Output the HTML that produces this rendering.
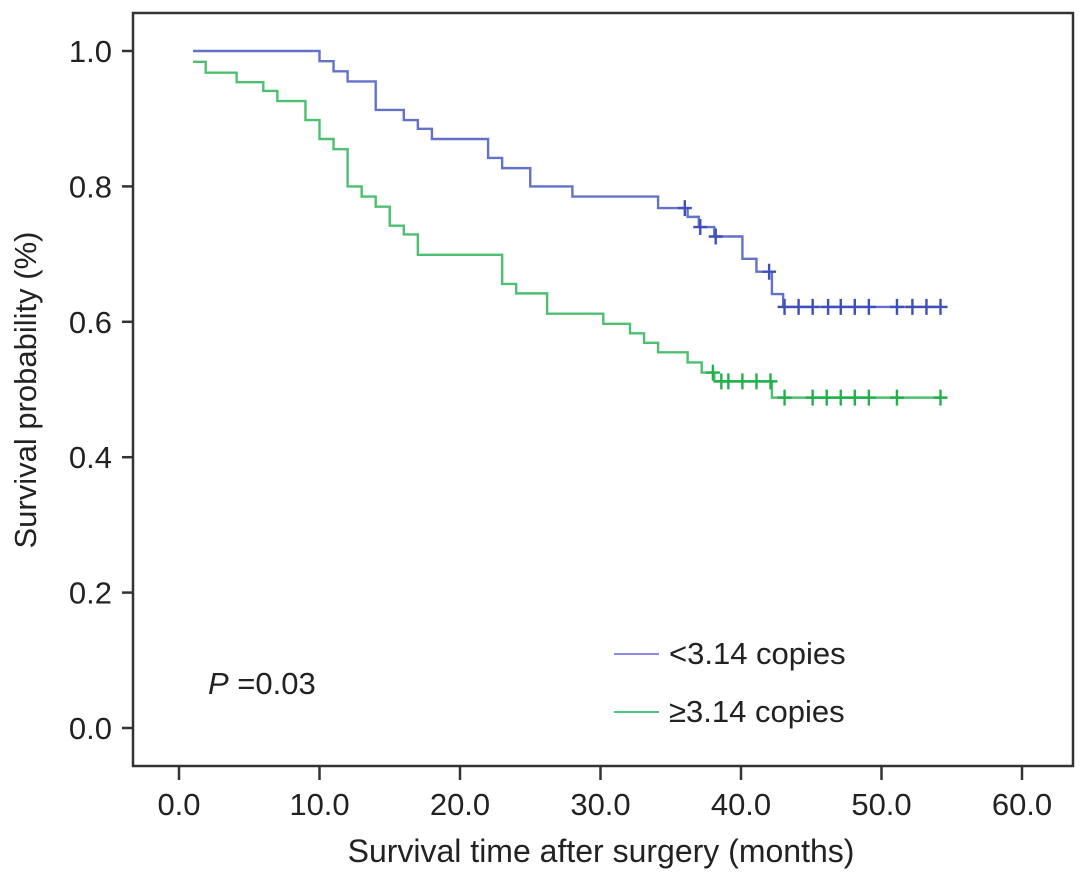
<!DOCTYPE html>
<html><head><meta charset="utf-8"><style>
html,body{margin:0;padding:0;background:#fff;}
svg{display:block;font-family:"Liberation Sans",Arial,sans-serif;}
</style></head><body>
<svg id="chart" width="1085" height="879" viewBox="0 0 1085 879">
<rect x="133" y="13" width="940" height="753" fill="#fff" stroke="#333" stroke-width="2.5"/>
<g id="axes"></g>
<g id="curves"></g>
<text x="601" y="862" font-size="32" fill="#222" text-anchor="middle">Survival time after surgery (months)</text>
<text transform="translate(36,390) rotate(-90)" font-size="31" fill="#222" text-anchor="middle">Survival probability (%)</text>
<text x="208" y="694" font-size="31" fill="#222"><tspan font-style="italic">P</tspan> =0.03</text>
<g>
<line x1="614" y1="654" x2="659" y2="654" stroke="#8a8ae0" stroke-width="2"/>
<text x="669" y="664" font-size="31" fill="#222">&lt;3.14 copies</text>
<line x1="614" y1="712" x2="659" y2="712" stroke="#4cc680" stroke-width="2"/>
<text x="669" y="722" font-size="31" fill="#222">≥3.14 copies</text>
</g>
</svg>
<script>
const xTicks=[0,10,20,30,40,50,60];
const xTickLabels=["0.0","10.0","20.0","30.0","40.0","50.0","60.0"];
const yTicks=[0,0.2,0.4,0.6,0.8,1.0];
const yTickLabels=["0.0","0.2","0.4","0.6","0.8","1.0"];
const lowTimes=[1,10,11,12,14,16,17,18,22,23,25,28,34.1,36.2,37,38.1,40.1,41.1,42.2,43,54.3];
const lowSurv=[1.0,0.985,0.97,0.955,0.913,0.898,0.885,0.87,0.842,0.827,0.80,0.785,0.768,0.755,0.74,0.726,0.693,0.674,0.641,0.622,0.622];
const lowCensT=[36,37.1,38.2,42,43.1,44.1,45.1,46.2,47.1,48.1,49.1,51.1,52.2,53.2,54.2];
const highTimes=[1,1.9,4.1,6,7,9,10,11,12,13,14,15,16,17,23,24,26.2,30.2,32.1,33.1,34.1,36.2,37.2,38.1,42.2,54.3];
const highSurv=[0.984,0.968,0.954,0.941,0.926,0.898,0.87,0.855,0.80,0.785,0.77,0.742,0.729,0.699,0.656,0.642,0.612,0.597,0.583,0.569,0.555,0.54,0.525,0.512,0.488,0.488];
const highCensT=[38,38.6,39.1,40.1,41.1,42.1,43.1,45.1,46.1,47.1,48.1,49.1,51.1,54.2];
const X=t=>179+t*14.05;
const Y=s=>728-s*677;
const NS="http://www.w3.org/2000/svg";
function mk(tag,attrs,parent){const e=document.createElementNS(NS,tag);for(const k in attrs)e.setAttribute(k,attrs[k]);parent.appendChild(e);return e;}
const axes=document.getElementById('axes');
xTicks.forEach((t,i)=>{
 const l=mk('line',{x1:X(t),y1:766,x2:X(t),y2:780,stroke:'#333','stroke-width':2.5},axes);
 
 
 const tx=mk('text',{x:X(t),y:815,'font-size':31,fill:'#222','text-anchor':'middle'},axes);
 tx.textContent=xTickLabels[i];
 
 
});
yTicks.forEach((s,i)=>{
 const l=mk('line',{x1:122,y1:Y(s),x2:133,y2:Y(s),stroke:'#333','stroke-width':2.5},axes);
 
 
 const tx=mk('text',{x:112,y:Y(s)+11,'font-size':31,fill:'#222','text-anchor':'end'},axes);
 tx.textContent=yTickLabels[i];
 
 
});
const curves=document.getElementById('curves');
function stepPath(ts,ss){let d='M'+X(ts[0])+','+Y(ss[0]);for(let i=1;i<ts.length;i++){d+=' H'+X(ts[i])+' V'+Y(ss[i]);}return d;}
function survAt(ts,ss,t){let v=ss[0];for(let i=0;i<ts.length;i++){if(ts[i]<=t)v=ss[i];}return v;}
function drawSeries(ts,ss,cs,color,mcolor,name){
 const p=mk('path',{d:stepPath(ts,ss),fill:'none',stroke:color,'stroke-width':2.4},curves);
 
 
 cs.forEach(t=>{
  const x=X(t),y=Y(survAt(ts,ss,t));
  const c=mk('path',{d:`M${x},${y-8}V${y+8}M${x-7},${y}H${x+7}`,stroke:mcolor,'stroke-width':2.4,fill:'none'},curves);
  
  
 });
}
drawSeries(lowTimes,lowSurv,lowCensT,'#6272c8','#3f4fb8','low-copies');
drawSeries(highTimes,highSurv,highCensT,'#4cc070','#22b04a','high-copies');
</script>
</body></html>
